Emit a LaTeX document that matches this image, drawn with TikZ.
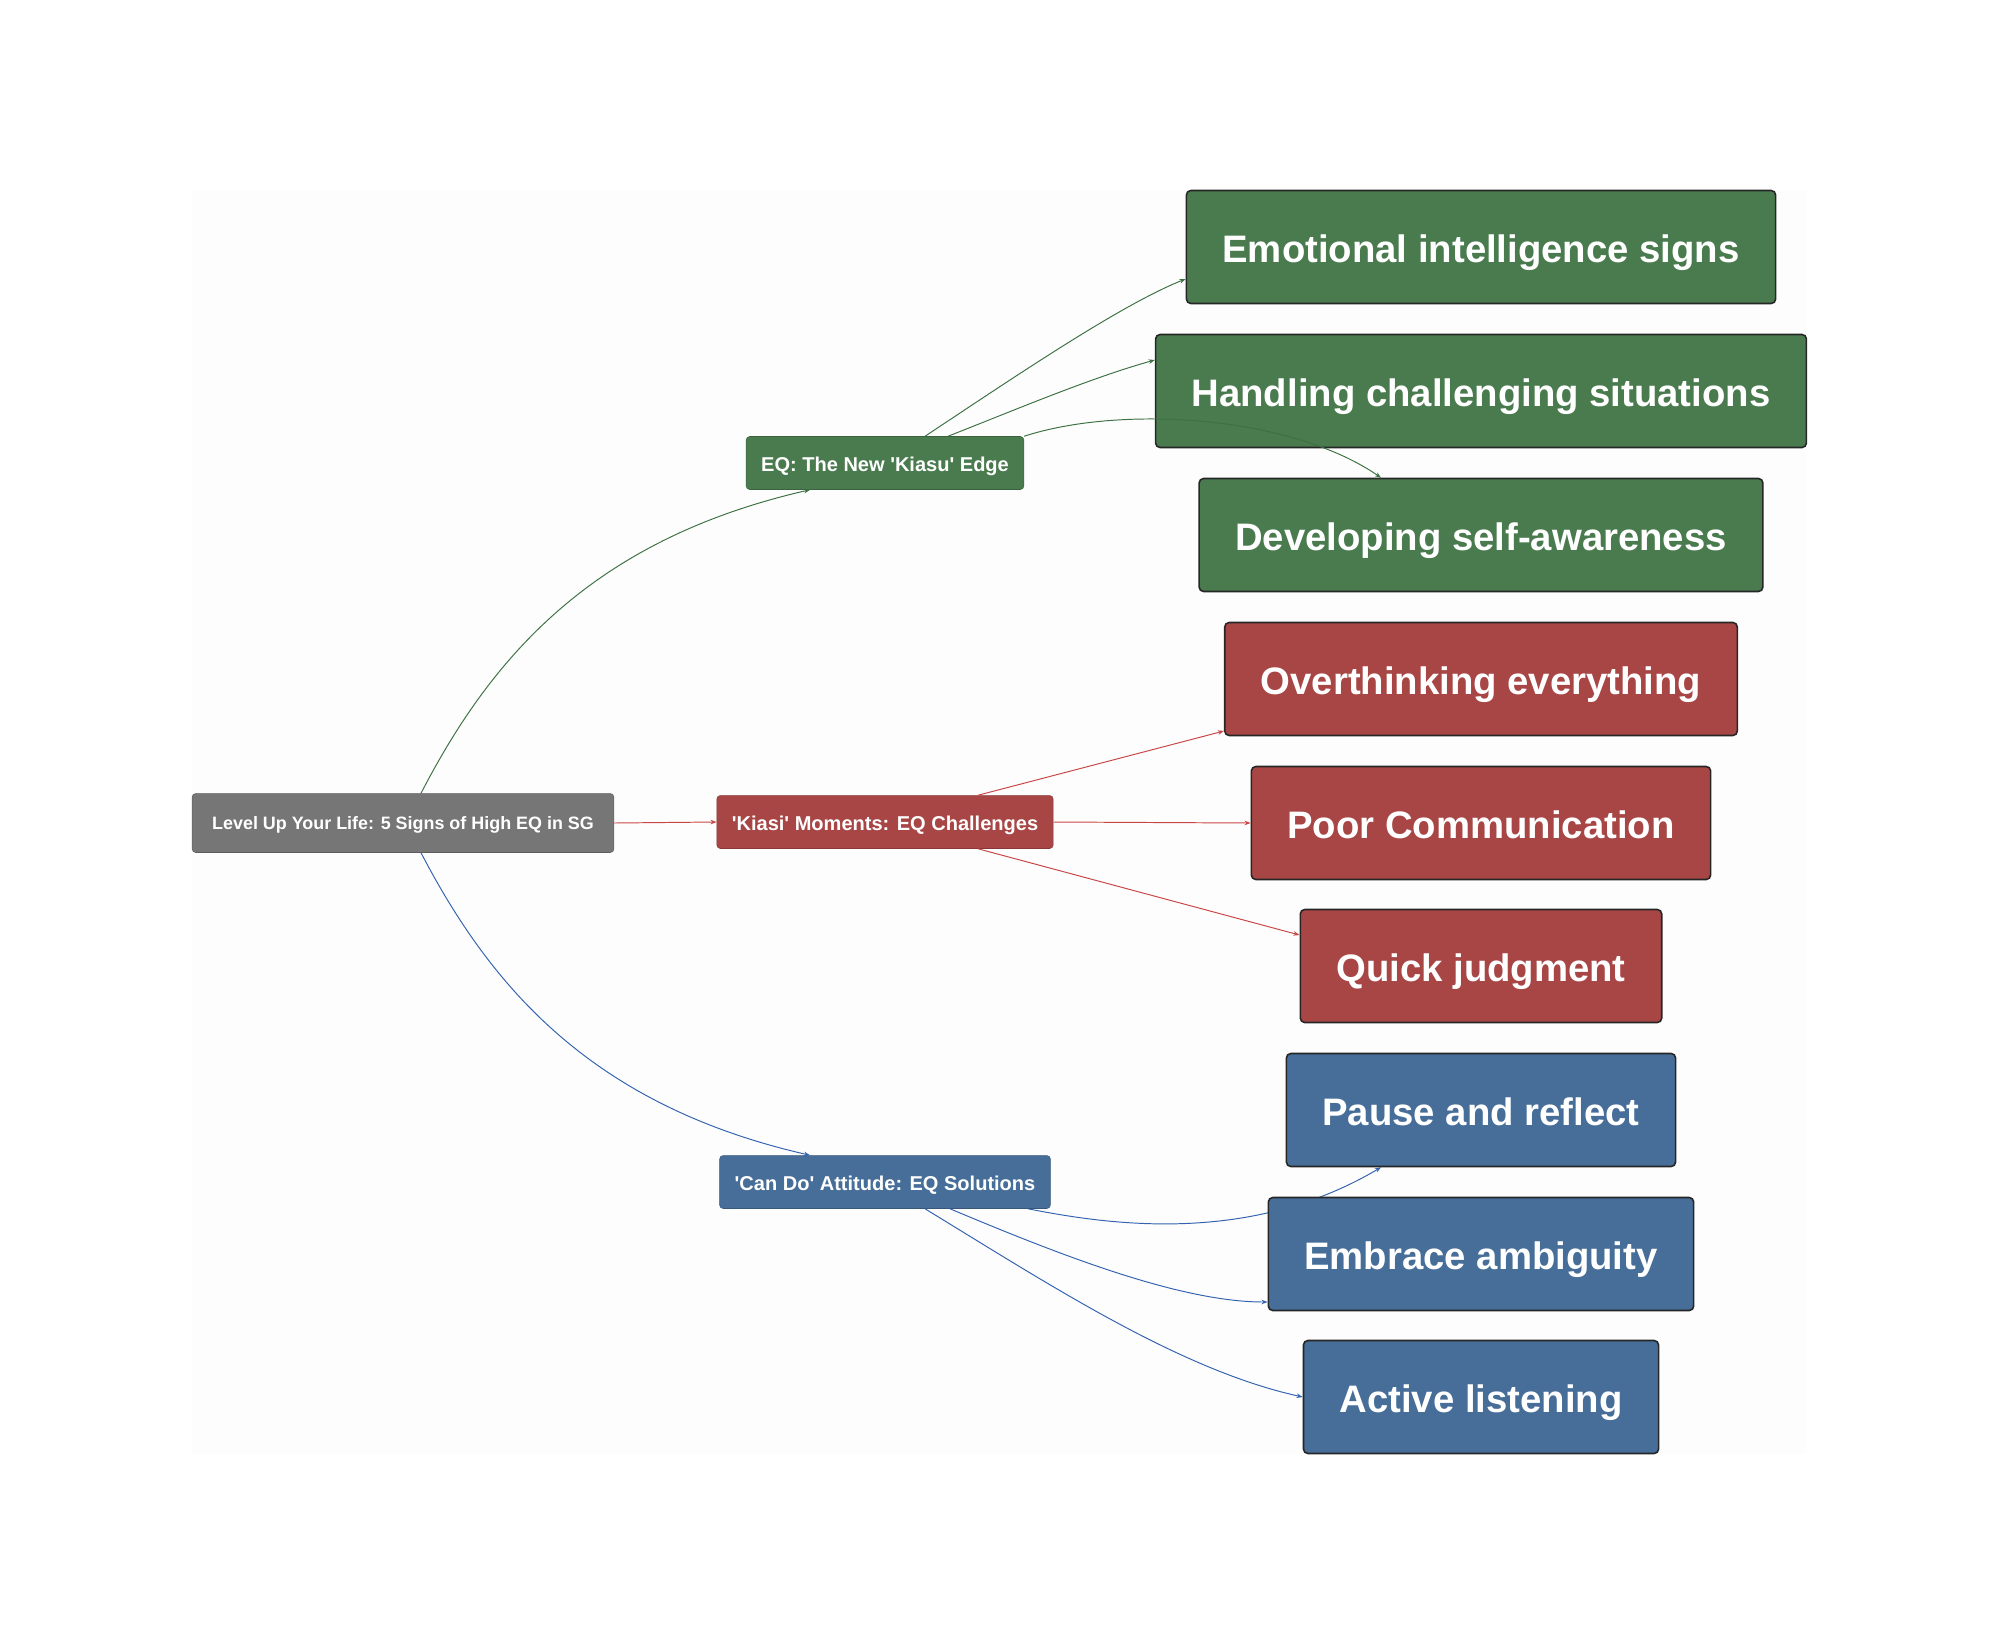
\documentclass[tikz,border=0pt]{standalone}
\usepackage{fontspec}
\setmainfont{Liberation Sans}
\usetikzlibrary{arrows.meta,backgrounds}
\definecolor{rootgrey}{HTML}{767676}
\definecolor{eqgreen}{HTML}{4A7B4F}
\definecolor{kiasired}{HTML}{A84646}
\definecolor{candoblue}{HTML}{466E99}
\definecolor{greenline}{HTML}{3D7042}
\definecolor{redline}{HTML}{C94545}
\definecolor{blueline}{HTML}{3262B0}
\definecolor{canvas}{HTML}{FDFDFD}
\newcommand{\sq}{\textquotesingle}
\begin{document}
\begin{tikzpicture}[x=0.02cm,y=-0.02cm,
    rootbox/.style={fill=rootgrey,draw=rootgrey!80!black,line width=0.3pt,rounded corners=2pt,
      text=white,font=\fontsize{10.2}{12}\selectfont\bfseries,inner xsep=0.4cm,minimum height=1.18cm,
      text height=7.5pt,text depth=0pt},
    midbox/.style={fill=#1,draw=#1!80!black,line width=0.3pt,rounded corners=2pt,
      text=white,font=\fontsize{11.4}{14}\selectfont\bfseries,inner xsep=0.3cm,minimum height=1.06cm,
      text height=10pt,text depth=0pt},
    leafbox/.style={fill=#1,draw=black!85,line width=0.9pt,rounded corners=2.5pt,
      text=white,font=\fontsize{21.8}{26}\selectfont\bfseries,inner xsep=0.72cm,minimum height=2.26cm,
      text height=17.5pt,text depth=0pt},
    link/.style={draw=#1,line width=0.55pt,-{Stealth[length=3.5pt,width=2.6pt]}}]
  \useasboundingbox (0,0) rectangle (2000,1646);
  \draw
    (403,823) node[rootbox] (root){Level Up Your Life: 5 Signs of High EQ in SG}
    (885,463) node[midbox=eqgreen] (eq){EQ: The New \sq Kiasu\sq{} Edge}
    (885,822) node[midbox=kiasired] (kiasi){\sq Kiasi\sq{} Moments: EQ Challenges}
    (885,1182) node[midbox=candoblue] (cando){\sq Can Do\sq{} Attitude: EQ Solutions}
    (1481,247) node[leafbox=eqgreen] (signs){Emotional intelligence signs}
    (1481,391) node[leafbox=eqgreen] (handling){Handling challenging situations}
    (1481,535) node[leafbox=eqgreen] (selfaware){Developing self-awareness}
    (1481,679) node[leafbox=kiasired] (overthink){Overthinking everything}
    (1481,823) node[leafbox=kiasired] (poorcomm){Poor Communication}
    (1481,966) node[leafbox=kiasired] (quick){Quick judgment}
    (1481,1110) node[leafbox=candoblue] (pause){Pause and reflect}
    (1481,1254) node[leafbox=candoblue] (ambiguity){Embrace ambiguity}
    (1481,1397) node[leafbox=candoblue] (listening){Active listening};
  \begin{scope}[on background layer]
    \fill[canvas] (root.west |- signs.north) rectangle (handling.east |- listening.south);
    \draw[link=blueline] ([xshift=2.86cm]cando.south) .. controls (1110,1225) and (1250,1245) .. ([xshift=-2cm]pause.south);
  \end{scope}
  % root to the three branches
  \draw[link=greenline] ([xshift=0.36cm]root.north) .. controls (490,660) and (590,540) .. ([xshift=-1.5cm]eq.south);
  \draw[link=redline] (root.east) -- (kiasi.west);
  \draw[link=blueline] ([xshift=0.36cm]root.south) .. controls (490,985) and (590,1105) .. ([xshift=-1.5cm]cando.north);
  % green branch
  \draw[link=greenline] ([xshift=0.8cm]eq.north) .. controls (1010,380) and (1120,305) .. ([yshift=-0.64cm]signs.west);
  \draw[link=greenline] ([xshift=1.26cm]eq.north) .. controls (1010,412) and (1090,378) .. ([yshift=0.62cm]handling.west);
  \draw[link=greenline] (eq.north east) .. controls (1120,405) and (1290,415) .. ([xshift=-2cm]selfaware.north);
  % red branch
  \draw[link=redline] ([xshift=1.86cm]kiasi.north) -- ([yshift=-1.04cm]overthink.west);
  \draw[link=redline] (kiasi.east) -- (poorcomm.west);
  \draw[link=redline] ([xshift=1.86cm]kiasi.south) -- ([yshift=0.62cm]quick.west);
  % blue branch
  \draw[link=blueline] ([xshift=1.3cm]cando.south) .. controls (1060,1255) and (1180,1302) .. ([yshift=-0.96cm]ambiguity.west);
  \draw[link=blueline] ([xshift=0.8cm]cando.south) .. controls (1050,1285) and (1180,1370) .. (listening.west);
\end{tikzpicture}
\end{document}
